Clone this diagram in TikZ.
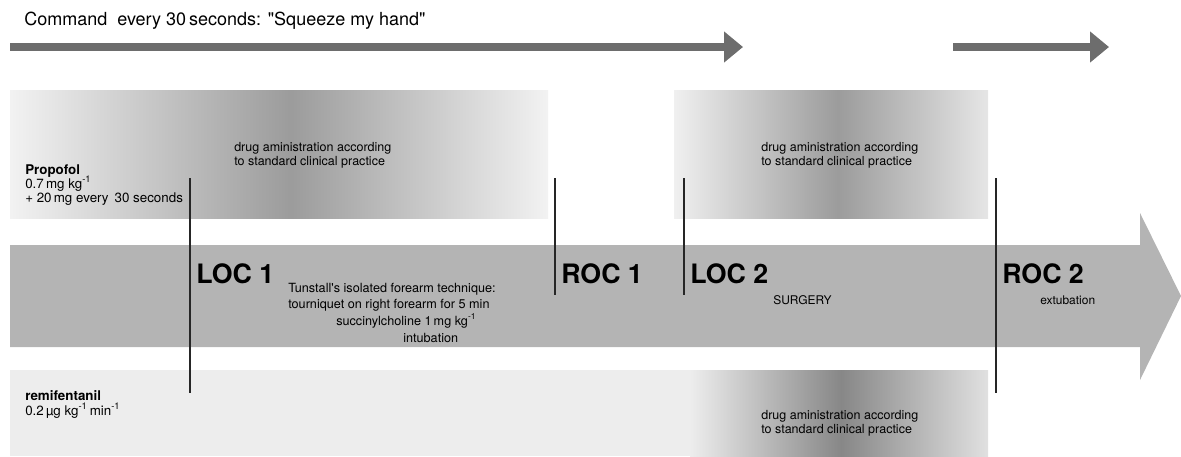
\documentclass[tikz,border=0pt]{standalone}
\usepackage{fontspec}
\setmainfont{TeX Gyre Heros}
\usetikzlibrary{arrows.meta}
\definecolor{cmdgray}{HTML}{6D6D6D}
\definecolor{bandgray}{HTML}{B4B4B4}
\tikzset{cmdarrow/.style={draw=cmdgray,line width=5.7pt,
		-{Triangle[length=13.5pt,width=21.3pt]}},
	marker/.style={draw=black!85,line width=0.75pt},
	txt/.style={anchor=base west,inner sep=0pt},
	drugtxt/.style={txt,font=\fontsize{8.9}{11}\selectfont},
	loclabel/.style={txt,font=\fontsize{19}{22}\bfseries},
}
\newcommand{\inv}{\textsuperscript{-1}}

\begin{document}
\begin{tikzpicture}[x=0.025cm,y=-0.025cm]
	\tikzstyle{every node}=[font=\fontsize{9}{11}\selectfont]
	\useasboundingbox (0,0) rectangle (1181,456);
	
	% command arrows
	\node[txt,font=\fontsize{12.8}{14}\selectfont] (cmd) at (24,25) {Command\ \ every 30\,seconds: \textquotedbl Squeeze my hand\textquotedbl};
	\coordinate (cmdA) at (10,47);
	\coordinate (cmdB) at (743,47);
	\coordinate (cmdC) at (953,47);
	\coordinate (cmdD) at (1109,47);
	\draw[cmdarrow] (cmdA) -- (cmdB);
	\draw[cmdarrow] (cmdC) -- (cmdD);
	
	% drug boxes
	\shade[left color=black!5,right color=black!39] (10,90) rectangle (291,218);
	\shade[left color=black!39,right color=black!5] (291,90) rectangle (548,218);
	\shade[left color=black!6,right color=black!39] (674,90) rectangle (838,218);
	\shade[left color=black!39,right color=black!10] (838,90) rectangle (988,218);
	\fill[black!7] (10,370) rectangle (690,456);
	\shade[left color=black!7,right color=black!47] (690,370) rectangle (841,456);
	\shade[left color=black!47,right color=black!12] (841,370) rectangle (988,456);
	
	% main time line
	\fill[bandgray] (10,245) -- (1140,245) -- (1140,213) -- (1181,296) -- (1140,380) -- (1140,347) -- (10,347) -- cycle;
	
	\node[drugtxt] (drugA1) at (234,151) {drug aministration according};
	\node[drugtxt] (drugA2) at (234,165) {to standard clinical practice};
	\node[drugtxt] (drugB1) at (761,151) {drug aministration according};
	\node[drugtxt] (drugB2) at (761,165) {to standard clinical practice};
	\node[drugtxt] (drugC1) at (761,419) {drug aministration according};
	\node[drugtxt] (drugC2) at (761,433) {to standard clinical practice};
	
	\node[txt,font=\fontsize{9.5}{11}\bfseries] (prop) at (25,174) {Propofol};
	\node[txt,font=\fontsize{9.5}{11}\selectfont] (propA) at (25,188) {0.7\,mg kg\inv};
	\node[txt,font=\fontsize{9.5}{11}\selectfont] (propB) at (25,202) {+ 20\,mg every\ \,30 seconds};
	\node[txt,font=\fontsize{9.5}{11}\bfseries] (remi) at (25,400) {remifentanil};
	\node[txt,font=\fontsize{9.5}{11}\selectfont] (remiA) at (25,415) {0.2\,µg kg\inv\,min\inv};
	
	% LOC / ROC markers
	\draw[marker] (190,178) -- (190,393);
	\draw[marker] (555,178) -- (555,295);
	\draw[marker] (684,178) -- (684,295);
	\draw[marker] (996,178) -- (996,393);
	\node[loclabel] (loc1) at (196,283) {LOC 1};
	\node[loclabel] (roc1) at (561,283) {ROC 1};
	\node[loclabel] (loc2) at (690,283) {LOC 2};
	\node[loclabel] (roc2) at (1002,283) {ROC 2};
	
	\node[txt] (tun1) at (288,292) {Tunstall\textquotesingle s isolated forearm technique:};
	\node[txt] (tun2) at (288,308) {tourniquet on right forearm for 5 min};
	\node[txt] (tun3) at (336,325) {succinylcholine 1\,mg kg\inv};
	\node[txt] (tun4) at (403,342) {intubation};
	\node[txt,font=\fontsize{8.5}{10}\selectfont] (surg) at (773,304) {SURGERY};
	\node[txt,font=\fontsize{8.5}{10}\selectfont] (extub) at (1040,304) {extubation};
\end{tikzpicture}
\end{document}
